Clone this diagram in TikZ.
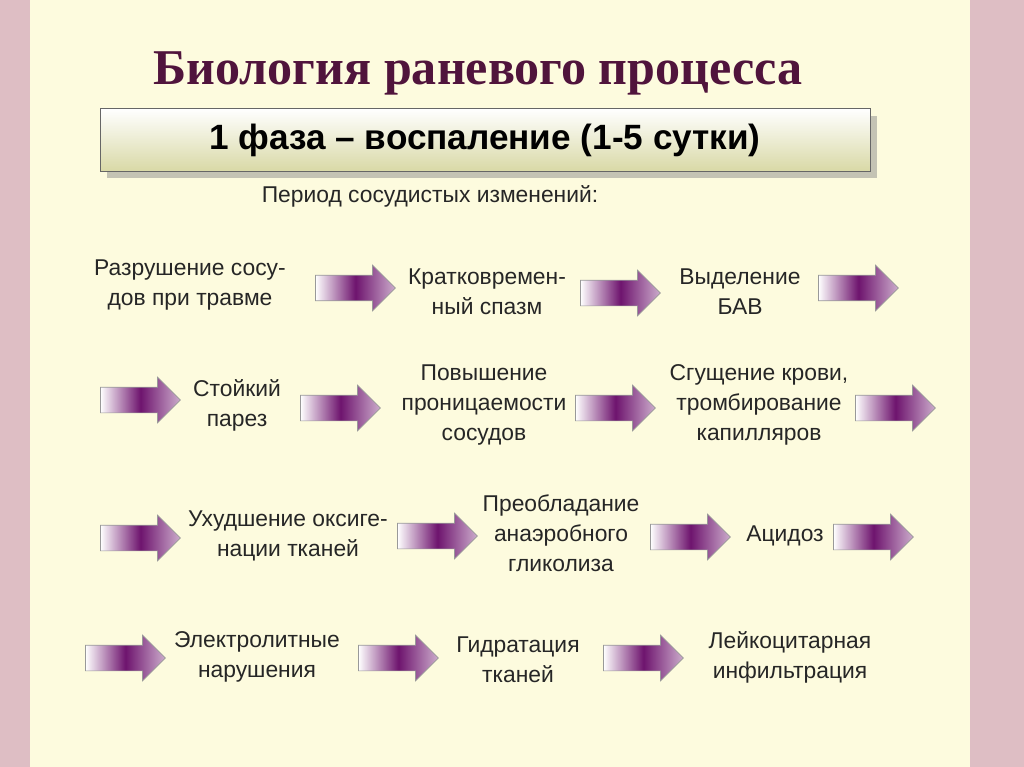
\documentclass[tikz,border=0pt]{standalone}
\usepackage{fontspec}
\setmainfont{Liberation Sans}
\newfontfamily\titlefont{Liberation Serif}
\usetikzlibrary{shapes.arrows,shadows}

\definecolor{pinkbg}{RGB}{222,190,196}
\definecolor{creambg}{RGB}{253,251,222}
\definecolor{titlecol}{RGB}{80,20,60}
\definecolor{arrowcol}{RGB}{110,20,110}

\tikzset{
    step text/.style={align=center, font=\fontsize{13}{17}\selectfont, text=black!85},
    block arrow/.style={single arrow, draw=black!40, thin,
        minimum height=1.6cm, inner xsep=0pt, inner ysep=0.25cm,
        single arrow head extend=0.2cm, xshift=-0.12cm,
        left color=white, right color=arrowcol!35, middle color=arrowcol}
}

\begin{document}
\begin{tikzpicture}[x=0.02cm, y=-0.02cm]
    \useasboundingbox (0,0) rectangle (1024,767);
    \fill[pinkbg] (0,0) rectangle (1024,767);
    \fill[creambg] (30,0) rectangle (970,767);

    \node[font=\titlefont\bfseries\fontsize{28.5}{32}\selectfont, text=titlecol] (title) at (478,73) {Биология раневого процесса};
    \node[draw=black!60, minimum width=15.4cm, minimum height=1.25cm,
        top color=white, bottom color=black!20!olive!25,
        drop shadow={shadow xshift=4pt, shadow yshift=-4pt, fill=black!45},
        font=\bfseries\fontsize{20}{24}\selectfont] (phase) at (485,140) {1 фаза -- воспаление (1-5 сутки)};
    \node[step text] (period) at (430,196) {Период сосудистых изменений:};

    % row 1
    \node[step text] (t11) at (190,285) {Разрушение сосу-\\дов при травме};
    \node[block arrow] (a11) at (355,288) {};
    \node[step text] (t12) at (487,292) {Кратковремен-\\ный спазм};
    \node[block arrow] (a12) at (620,293) {};
    \node[step text] (t13) at (740,292) {Выделение\\БАВ};
    \node[block arrow] (a13) at (858,288) {};

    % row 2
    \node[block arrow] (a21) at (140,400) {};
    \node[step text] (t21) at (237,405) {Стойкий\\парез};
    \node[block arrow] (a22) at (340,408) {};
    \node[step text] (t22) at (484,405) {Повышение\\проницаемости\\сосудов};
    \node[block arrow] (a23) at (615,408) {};
    \node[step text] (t23) at (759,405) {Сгущение крови,\\тромбирование\\капилляров};
    \node[block arrow] (a24) at (895,408) {};

    % row 3
    \node[block arrow] (a31) at (140,538) {};
    \node[step text] (t31) at (288,536) {Ухудшение оксиге-\\нации тканей};
    \node[block arrow] (a32) at (437,536) {};
    \node[step text] (t32) at (561,533) {Преобладание\\анаэробного\\гликолиза};
    \node[block arrow] (a33) at (690,537) {};
    \node[step text] (t33) at (785,536) {Ацидоз};
    \node[block arrow] (a34) at (873,537) {};

    % row 4
    \node[block arrow] (a41) at (125,658) {};
    \node[step text] (t41) at (257,657) {Электролитные\\нарушения};
    \node[block arrow] (a42) at (398,658) {};
    \node[step text] (t42) at (518,660) {Гидратация\\тканей};
    \node[block arrow] (a43) at (643,658) {};
    \node[step text] (t43) at (790,657) {Лейкоцитарная\\инфильтрация};
\end{tikzpicture}
\end{document}
